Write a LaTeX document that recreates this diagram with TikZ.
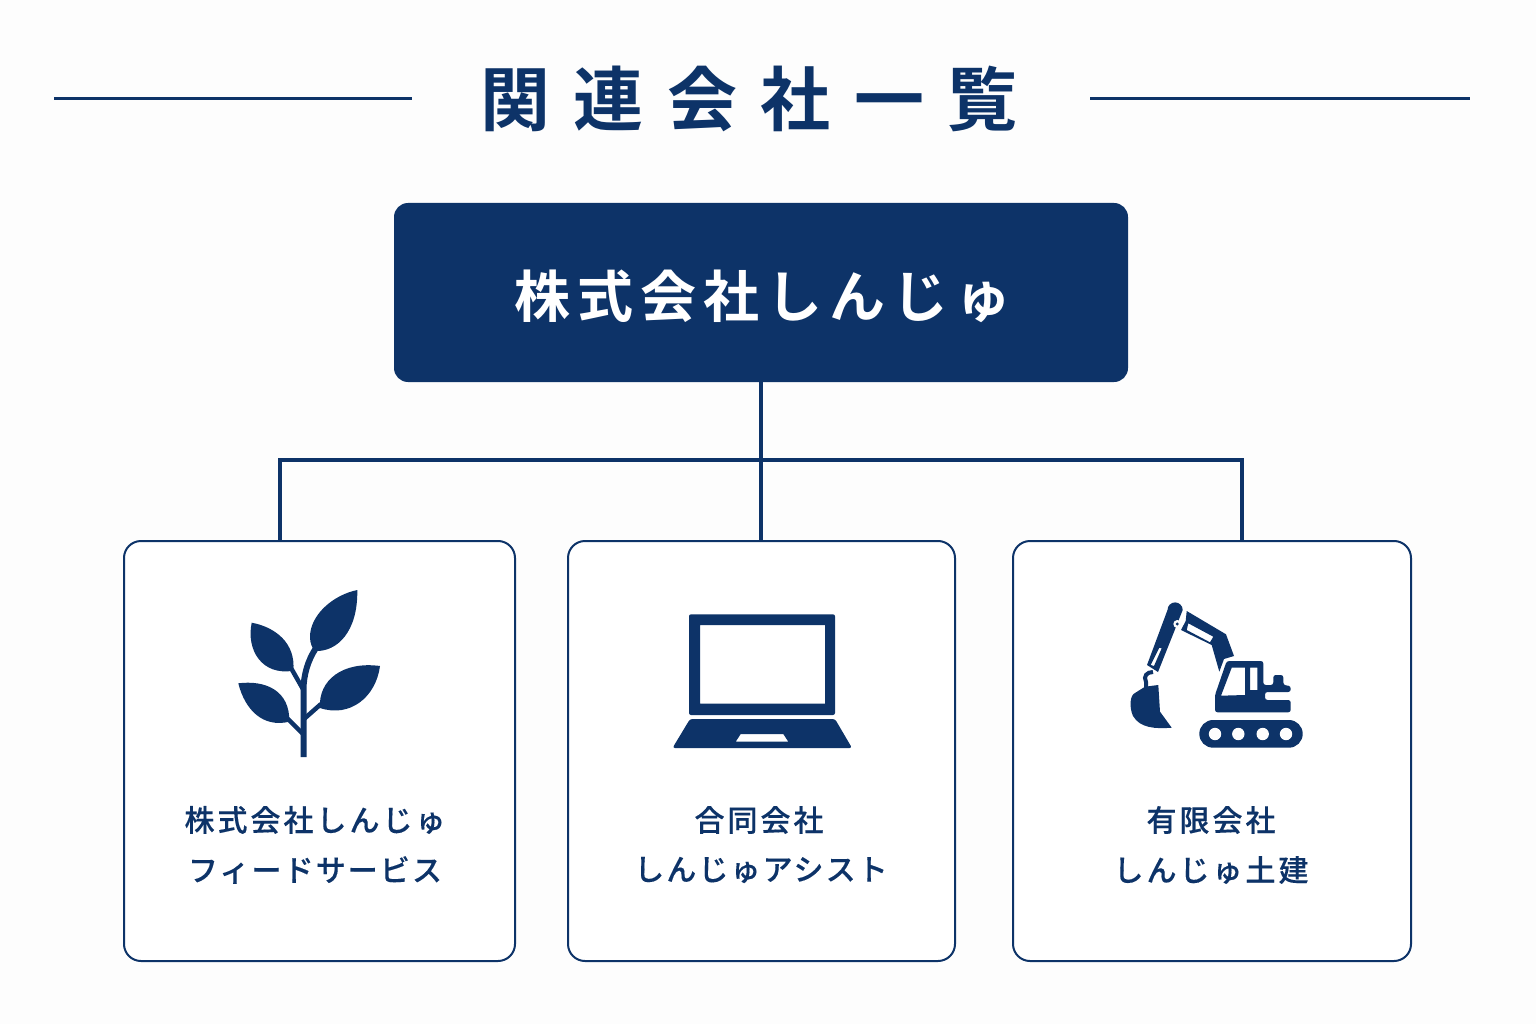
\documentclass[tikz,border=0pt]{standalone}
\usepackage{fontspec}
\usetikzlibrary{calc}
\setmainfont{Noto Sans CJK JP}
\newfontfamily\jpb[LetterSpace=33.5]{Noto Sans CJK JP Bold}
\newfontfamily\jpt[LetterSpace=12.5]{Noto Sans CJK JP Bold}
\newfontfamily\jpm[LetterSpace=10,FakeBold=0.25]{Noto Sans CJK JP Medium}
\newfontfamily\jpn[LetterSpace=7,FakeBold=0.25]{Noto Sans CJK JP Medium}
\definecolor{navy}{HTML}{0D3368}
\definecolor{paper}{HTML}{FDFDFD}
\tikzset{
  cardbox/.style={draw=navy,line width=2pt,fill=white,rounded corners=17pt,inner sep=0pt,outer sep=0pt},
  topbox/.style={fill=navy,rounded corners=14pt,inner sep=0pt,outer sep=0pt},
  toptext/.style={text=white,inner sep=0pt,font={\jpt\fontsize{56}{60}\selectfont}},
  titletext/.style={text=navy,inner sep=0pt,font={\jpb\fontsize{70}{80}\selectfont}},
  label/.style={text=navy,inner sep=0pt,align=center,font={\jpm\fontsize{30}{50}\selectfont}},
  labelnarrow/.style={text=navy,inner sep=0pt,align=center,font={\jpn\fontsize{30}{50}\selectfont}},
  rule/.style={navy,line width=3pt},
  conn/.style={navy,line width=4pt},
  icon/.style={fill=navy,draw=none},
}
\begin{document}
\begin{tikzpicture}[x=1pt,y=-1pt]
\useasboundingbox (0,0) rectangle (1536,1024);
\fill[paper] (0,0) rectangle (1536,1024);
% title
\node[titletext] (title) at (749,98.5) {関連会社一覧};
\coordinate (r1a) at (54,99); \coordinate (r1b) at (412,99);
\coordinate (r2a) at (1090,99); \coordinate (r2b) at (1470,99);
\draw[rule] (r1a) -- (r1b);
\draw[rule] (r2a) -- (r2b);
% boxes
\node[topbox,minimum width=734pt,minimum height=179pt] (top) at (761,292.5) {};
\node[toptext] (toplabel) at (763,296) {株式会社しんじゅ};
\node[cardbox,minimum width=391pt,minimum height=420pt] (c1) at (319.5,751) {};
\node[cardbox,minimum width=387pt,minimum height=420pt] (c2) at (761.5,751) {};
\node[cardbox,minimum width=398pt,minimum height=420pt] (c3) at (1212,751) {};
% connectors
\coordinate (busL) at (279.5,460);
\coordinate (busM) at (760.5,460);
\coordinate (busR) at (1241.5,460);
\draw[conn] (busM |- top.south) -- (busM);
\draw[conn,line join=miter] (busL |- c1.north) -- (busL) -- (busR) -- (busR |- c3.north);
\draw[conn] (busM) -- (busM |- c2.north);
% labels
\node[label] (l1a) at (315,820) {株式会社しんじゅ};
\node[labelnarrow] (l1b) at (315,870) {フィードサービス};
\node[label] (l2a) at (759,820) {合同会社};
\node[labelnarrow] (l2b) at (761,870) {しんじゅアシスト};
\node[label] (l3a) at (1211,820) {有限会社};
\node[label] (l3b) at (1211,870) {しんじゅ土建};
% leaf icon
\fill[icon] (357.3,590) .. controls (333,595) and (310,615) .. (310,637) .. controls (310,643) and (312,648) .. (315,651) .. controls (337,652) and (358,632) .. (357.3,590) -- cycle;
\fill[icon] (251.7,622.7) .. controls (275,627) and (296,643) .. (293.3,670.7) .. controls (262,676) and (246,650) .. (251.7,622.7) -- cycle;
\fill[icon] (238.3,683.3) .. controls (265,680) and (290,690) .. (289.3,721.7) .. controls (263,728) and (245,710) .. (238.3,683.3) -- cycle;
\fill[icon] (380,666) .. controls (343,661) and (318,680) .. (320,708) .. controls (350,718) and (376,697) .. (380,666) -- cycle;
\draw[navy,line width=6pt] (303.5,757) -- (303.5,690) .. controls (303.5,675) and (308,660) .. (316,648);
\draw[navy,line width=4.5pt] (303.5,690) -- (291,668);
\draw[navy,line width=4.5pt] (303,734) -- (287,718);
\draw[navy,line width=4.5pt] (304,719) -- (321,704);
% laptop icon
\fill[icon,even odd rule,rounded corners=2pt] (689,614.3) rectangle (835,715) (700,625) [sharp corners] rectangle (825,703.7);
\fill[icon,even odd rule] [rounded corners=2.5pt] (690,719) -- (835,719) -- (852,748) -- (672.5,748) -- cycle [sharp corners] (740.7,734) -- (783.3,734) -- (788.3,741.7) -- (735.7,741.7) -- cycle;
% excavator icon
\fill[icon,even odd rule] [rounded corners=2.5pt] (1226.7,661) -- (1263.3,661) -- (1263.3,685) -- (1273.3,685) -- (1273.3,675) -- (1283.3,675) -- (1283.3,685) -- (1290.7,686) -- (1290.7,692) -- (1265,692) -- (1265,700) -- (1290.7,700) -- (1290.7,712.3) -- (1215,712.3) -- (1215,695) -- cycle
  [sharp corners] (1231.7,667.7) -- (1245,667.7) -- (1245,695) -- (1221,695.7) -- cycle
  (1250,667.7) -- (1257.3,667.7) -- (1257.3,690) -- (1250,690) -- cycle;
\fill[icon,rounded corners=13.8pt] (1199.3,720) rectangle (1302.7,747.7);
\foreach \hx in {1215,1238.3,1262.7,1286} \fill[paper] (\hx,734) circle (6.2);
\fill[icon,even odd rule] (1186.7,611) -- (1226,634.3) -- (1234,656) -- (1224,659) -- (1219.3,671.7) -- (1211.7,645) -- (1181,630) -- (1185.7,621) -- cycle
  (1188.3,623.3) -- (1213.3,636.7) -- (1210,642.3) -- (1186.7,630) -- cycle;
\fill[icon,even odd rule] (1167.5,610) arc[start angle=180,end angle=360,radius=7.6] -- (1158,672) -- (1147,665) -- cycle
  (1159.3,647.7) -- (1150.7,665) -- (1154,666) -- (1161.7,648.3) -- cycle;
\fill[paper] (1177.3,624) circle (4);
\fill[icon] (1177.3,624) circle (1.6);
\draw[navy,line width=4pt] (1146,688) -- (1146,682) .. controls (1143,676) and (1147,672) .. (1153,672);
\fill[icon] (1145,686.7) -- (1158.3,685) -- (1160,711.7) -- (1171.7,727.7) .. controls (1155,729) and (1140,728) .. (1133,716) .. controls (1129,707) and (1130,695) .. (1135,693) -- cycle;
\end{tikzpicture}
\end{document}
